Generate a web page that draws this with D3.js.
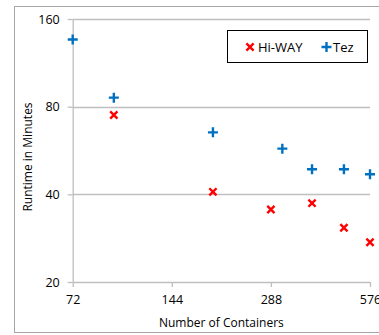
<!DOCTYPE html>
<html>
<head>
<meta charset="utf-8">
<script src="https://cdn.jsdelivr.net/npm/d3@7"></script>
<style>
  body { margin: 0; background: #fff; }
  text { font-family: "Open Sans", sans-serif; fill: #000; }
</style>
</head>
<body>
<svg id="chart" width="379" height="335"></svg>
<script>
// ----------- DATA -----------
const xTicks = [72, 144, 288, 576];
const yTicks = [20, 40, 80, 160];

const hiwayX = [96, 192, 288, 384, 480, 576];
const hiwayY = [74.9, 40.8, 35.5, 37.3, 30.7, 27.4];

const tezX = [72, 96, 192, 312, 384, 480, 576];
const tezY = [136, 85.9, 65.3, 57.4, 48.8, 48.8, 46.9];

// ----------- CHART -----------
const svg = d3.select("#chart");

const plotL = 72.7, plotR = 370, plotT = 19, plotB = 282;

const x = d3.scaleLog().base(2).domain([72, 576]).range([plotL, plotR]);
const y = d3.scaleLog().base(2).domain([20, 160]).range([plotB, plotT]);

// outer frame
svg.append("rect")
  .attr("x", 14.5).attr("y", 6.5)
  .attr("width", 370).attr("height", 326)
  .attr("fill", "none")
  .attr("stroke", "#a6a6a6");

// gridlines
svg.selectAll(".grid")
  .data(yTicks.slice(1))
  .enter()
  .append("line")
  .attr("x1", plotL).attr("x2", plotR)
  .attr("y1", d => Math.round(y(d)) + 0.5)
  .attr("y2", d => Math.round(y(d)) + 0.5)
  .attr("stroke", "#bfbfbf")
  .attr("stroke-width", 1.3);

// y axis
const yAxis = svg.append("g")
  .attr("transform", `translate(${plotL},0)`)
  .call(d3.axisLeft(y).tickValues(yTicks).tickFormat(d3.format("d")).tickSize(5).tickSizeOuter(0));

// x axis
const xAxis = svg.append("g")
  .attr("transform", `translate(0,${plotB})`)
  .call(d3.axisBottom(x).tickValues(xTicks).tickFormat(d3.format("d")).tickSize(5).tickSizeOuter(0));

[yAxis, xAxis].forEach(g => {
  g.select(".domain").attr("stroke", "#bfbfbf").attr("stroke-width", 1.3);
  g.selectAll(".tick line").attr("stroke", "#bfbfbf").attr("stroke-width", 1.3);
  g.selectAll(".tick text").attr("font-family", "Open Sans").attr("font-size", 12.5).attr("fill", "#000");
});
yAxis.selectAll(".tick text").attr("x", -13);
xAxis.selectAll(".tick text").attr("y", 13);

// axis titles
svg.append("text")
  .attr("x", (plotL + plotR) / 2)
  .attr("y", 327)
  .attr("text-anchor", "middle")
  .attr("font-size", 12)
  .text("Number of Containers");

svg.append("text")
  .attr("transform", "translate(32,157) rotate(-90)")
  .attr("text-anchor", "middle")
  .attr("font-size", 12)
  .text("Runtime in Minutes");

// markers
function cross(g, cx, cy, s) {
  g.append("path")
    .attr("d", `M${cx - s},${cy - s}L${cx + s},${cy + s}M${cx - s},${cy + s}L${cx + s},${cy - s}`)
    .attr("stroke", "#ff0000")
    .attr("stroke-width", 2.4)
    .attr("fill", "none");
}

function plus(g, cx, cy, s) {
  g.append("path")
    .attr("d", `M${cx - s},${cy}L${cx + s},${cy}M${cx},${cy - s}L${cx},${cy + s}`)
    .attr("stroke", "#0070c0")
    .attr("stroke-width", 2.4)
    .attr("fill", "none");
}

const marks = svg.append("g");
hiwayX.forEach((v, i) => cross(marks, x(v), y(hiwayY[i]), 3.6));
tezX.forEach((v, i) => plus(marks, x(v), y(tezY[i]), 5));

// legend
const legend = svg.append("g");
legend.append("rect")
  .attr("x", 227.5).attr("y", 30.5)
  .attr("width", 140).attr("height", 32)
  .attr("fill", "#fff")
  .attr("stroke", "#000");

cross(legend, 250, 47, 3.6);
legend.append("text")
  .attr("x", 258).attr("y", 51.5)
  .attr("font-size", 13)
  .text("Hi-WAY");

plus(legend, 326.5, 47, 5);
legend.append("text")
  .attr("x", 333).attr("y", 51.5)
  .attr("font-size", 13)
  .text("Tez");
</script>
</body>
</html>
